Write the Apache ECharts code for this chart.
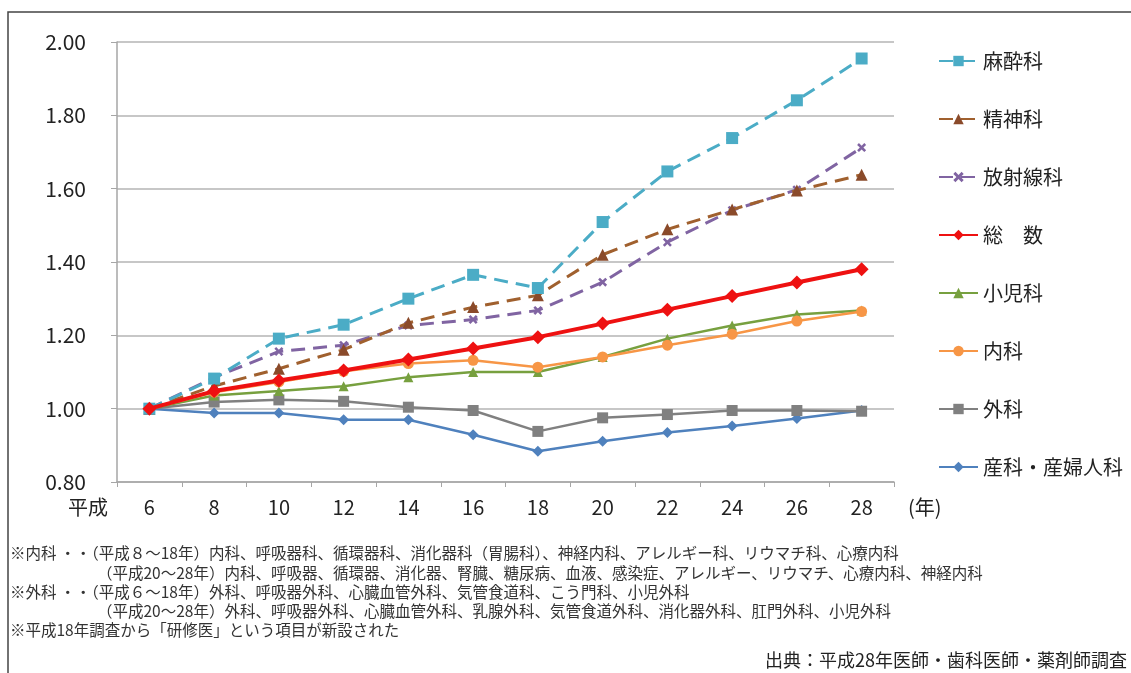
<!DOCTYPE html>
<html>
<head>
<meta charset="utf-8">
<script src="https://cdn.jsdelivr.net/npm/echarts@6/dist/echarts.min.js"></script>
<style>
  html, body { margin: 0; padding: 0; background: #fff; }
  #chart { width: 1131px; height: 673px; }
</style>
</head>
<body>
<div id="chart"></div>
<script>
// 年次（平成）
const years = ['6', '8', '10', '12', '14', '16', '18', '20', '22', '24', '26', '28'];

// 診療科別 医師数の推移（平成6年 = 1.00）
const masuika   = [1.00, 1.082, 1.191, 1.229, 1.300, 1.365, 1.329, 1.509, 1.647, 1.738, 1.841, 1.955];
const seishinka = [1.00, 1.062, 1.109, 1.161, 1.234, 1.277, 1.309, 1.420, 1.489, 1.543, 1.595, 1.638];
const hoshasen  = [1.00, 1.085, 1.156, 1.173, 1.227, 1.243, 1.268, 1.345, 1.454, 1.541, 1.597, 1.712];
const sousu     = [1.00, 1.048, 1.077, 1.104, 1.134, 1.164, 1.195, 1.232, 1.270, 1.307, 1.344, 1.380];
const shonika   = [1.00, 1.036, 1.048, 1.061, 1.086, 1.100, 1.100, 1.141, 1.191, 1.227, 1.257, 1.268];
const naika     = [1.00, 1.045, 1.073, 1.102, 1.123, 1.132, 1.113, 1.141, 1.173, 1.203, 1.239, 1.265];
const geka      = [1.00, 1.018, 1.024, 1.020, 1.004, 0.995, 0.938, 0.975, 0.984, 0.995, 0.995, 0.993];
const sanka     = [1.00, 0.988, 0.988, 0.970, 0.970, 0.929, 0.884, 0.911, 0.935, 0.953, 0.973, 0.995];

// 軸目盛
const yTicks = { min: 0.8, max: 2.0, step: 0.2 };

// 注記・出典
const notes = [
  '※内科 ・・（平成８～18年）内科、呼吸器科、循環器科、消化器科（胃腸科）、神経内科、アレルギー科、リウマチ科、心療内科',
  '（平成20～28年）内科、呼吸器、循環器、消化器、腎臓、糖尿病、血液、感染症、アレルギー、リウマチ、心療内科、神経内科',
  '※外科 ・・（平成６～18年）外科、呼吸器外科、心臓血管外科、気管食道科、こう門科、小児外科',
  '（平成20～28年）外科、呼吸器外科、心臓血管外科、乳腺外科、気管食道外科、消化器外科、肛門外科、小児外科',
  '※平成18年調査から「研修医」という項目が新設された'
];
const sourceText = '出典：平成28年医師・歯科医師・薬剤師調査';

const FONT = '"Noto Sans CJK JP", "Noto Sans", sans-serif';
const xMark = 'path://M2,0 L5,3 L8,0 L10,2 L7,5 L10,8 L8,10 L5,7 L2,10 L0,8 L3,5 L0,2 Z';

function line(name, data, color, opt) {
  return Object.assign({
    name: name,
    type: 'line',
    data: data,
    symbol: 'rect',
    symbolSize: 10,
    itemStyle: { color: color },
    lineStyle: { color: color, width: 2.5 },
    emphasis: { disabled: true },
    animation: false
  }, opt);
}

const dash = [14, 8];

const series = [
  line('産科・産婦人科', sanka, '#4f81bd', { symbol: 'diamond', symbolSize: 11, z: 2 }),
  line('外科', geka, '#808080', { symbol: 'rect', symbolSize: 11, z: 2 }),
  line('内科', naika, '#f79646', { symbol: 'circle', symbolSize: 11, z: 3 }),
  line('小児科', shonika, '#77a03f', { symbol: 'triangle', symbolSize: 10, z: 2 }),
  line('総　数', sousu, '#ee1111', { symbol: 'diamond', symbolSize: 14, lineStyle: { color: '#ee1111', width: 4 }, z: 4 }),
  line('放射線科', hoshasen, '#8064a2', { symbol: xMark, symbolSize: 9, lineStyle: { color: '#8064a2', width: 3, type: dash }, z: 2 }),
  line('精神科', seishinka, '#9a5428', { symbol: 'triangle', symbolSize: 12, itemStyle: { color: '#8a4a2a' }, lineStyle: { color: '#a0602e', width: 3, type: dash }, z: 3 }),
  line('麻酔科', masuika, '#4bacc6', { symbol: 'rect', symbolSize: 12, lineStyle: { color: '#4bacc6', width: 3, type: dash }, z: 3 })
];

const legendOrder = ['麻酔科', '精神科', '放射線科', '総　数', '小児科', '内科', '外科', '産科・産婦人科'];

const graphics = [
  { type: 'rect', shape: { x: 8, y: 12, width: 1200, height: 700 }, style: { fill: 'none', stroke: '#444', lineWidth: 1.5 }, silent: true },
  { type: 'text', left: 68, top: 497, style: { text: '平成', font: '20px ' + FONT, fill: '#222' } },
  { type: 'text', left: 908, top: 497, style: { text: '(年)', font: '20px ' + FONT, fill: '#222' } },
  { type: 'text', right: 4, top: 651, style: { text: sourceText, font: '18px ' + FONT, fill: '#222' } }
];
const noteX = [10, 97, 10, 97, 10];
const noteY = [545, 565, 584, 603, 622];
notes.forEach(function (t, i) {
  graphics.push({ type: 'text', left: noteX[i], top: noteY[i], style: { text: t, font: '15.5px ' + FONT, fill: '#333' } });
});

const chart = echarts.init(document.getElementById('chart'), null, { renderer: 'canvas' });
chart.setOption({
  backgroundColor: '#fff',
  animation: false,
  grid: { left: 117, right: 237, top: 42, bottom: 191, containLabel: false },
  legend: {
    data: legendOrder,
    orient: 'vertical',
    left: 933,
    top: 45,
    itemWidth: 39,
    itemHeight: 13,
    itemGap: 36,
    textStyle: { fontSize: 20, fontFamily: FONT, color: '#222', lineHeight: 22 },
    selectedMode: false
  },
  xAxis: {
    type: 'category',
    data: years,
    boundaryGap: true,
    axisLine: { lineStyle: { color: '#a6a6a6', width: 1.5 } },
    axisTick: { show: true, length: 5, lineStyle: { color: '#a6a6a6' } },
    axisLabel: { fontSize: 20, fontFamily: FONT, color: '#222', margin: 15 }
  },
  yAxis: {
    type: 'value',
    min: yTicks.min,
    max: yTicks.max,
    interval: yTicks.step,
    axisLine: { show: true, lineStyle: { color: '#a6a6a6', width: 1.5 } },
    axisTick: { show: true, length: 6, lineStyle: { color: '#a6a6a6' } },
    axisLabel: { fontSize: 21, fontFamily: FONT, color: '#222', margin: 31, formatter: function (v) { return v.toFixed(2); } },
    splitLine: { lineStyle: { color: '#b4b4b4', width: 1.5 } }
  },
  series: series,
  graphic: graphics
});
</script>
</body>
</html>
